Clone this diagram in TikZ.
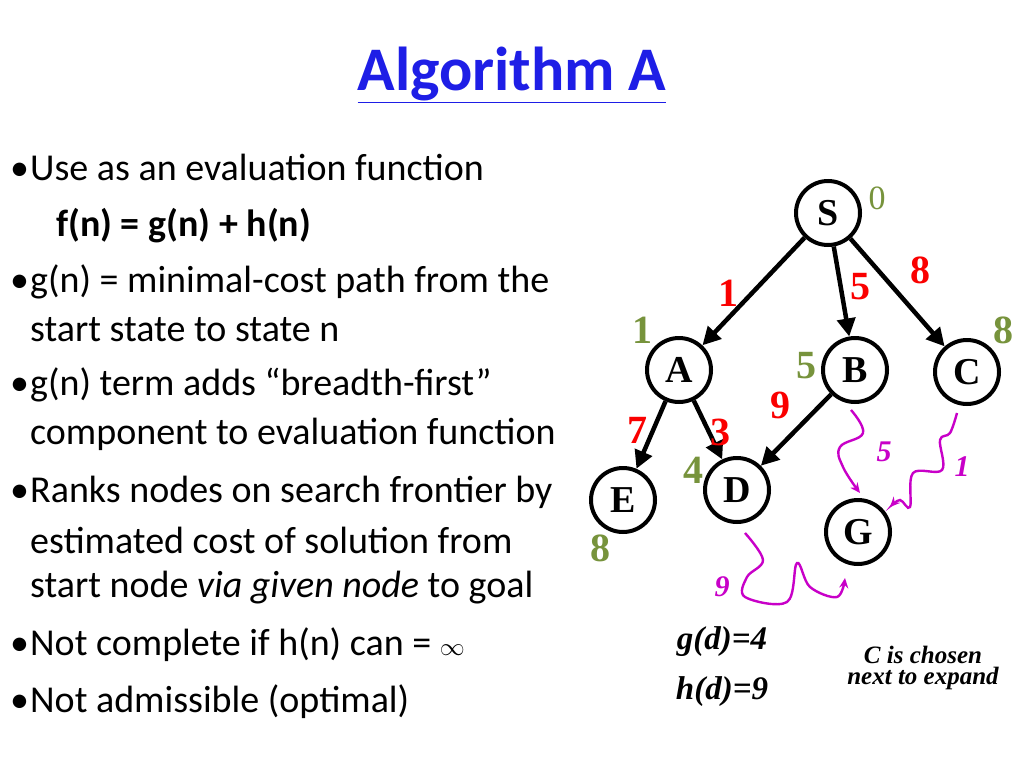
\documentclass[tikz,border=0pt]{standalone}
\usepackage{fontspec}
\setmainfont{Carlito}
\newfontfamily\tms{Liberation Serif}
\usetikzlibrary{arrows.meta}
\definecolor{ttlblue}{RGB}{30,30,230}
\definecolor{olivegreen}{RGB}{119,147,60}
\definecolor{redn}{RGB}{250,0,0}
\definecolor{mag}{RGB}{200,0,200}
\newcommand{\bul}{\makebox[20pt][l]{\textbullet}}
\begin{document}
\begin{tikzpicture}[x=1pt,y=-1pt,
  st/.style={circle,draw,line width=4pt,minimum size=64pt,inner sep=0pt,font=\tms\fontsize{38}{38}\selectfont\bfseries},
  edge/.style={line width=4.5pt,-{Triangle[length=18pt,width=18pt]}},
  wig/.style={mag,line width=2.4pt,-{Stealth[length=10pt,width=9pt]}},
  gn/.style={olivegreen,font=\tms\fontsize{40}{40}\selectfont\bfseries},
  rn/.style={redn,font=\tms\fontsize{40}{40}\selectfont\bfseries},
  mn/.style={mag,font=\tms\fontsize{30}{30}\selectfont\bfseries\itshape},
  bl/.style={anchor=west,inner sep=0pt,font=\fontsize{38}{38}\selectfont}]
\useasboundingbox[fill=white] (0,0) rectangle (1024,768);
\node[ttlblue,font=\fontsize{62}{62}\selectfont\bfseries] (title) at (512,75) {\underline{Algorithm A}};
% bullets
\node[bl] (b1) at (10,167) {\bul Use as an evaluation function};
\node[bl] (b1a) at (56,226) {\textbf{f(n) = g(n) + h(n)}};
\node[bl] (b2) at (10,282) {\bul g(n) = minimal-cost path from the};
\node[bl] (b2a) at (30,330) {start state to state n};
\node[bl] (b3) at (10,385) {\bul g(n) term adds \textquotedblleft breadth-first\textquotedblright};
\node[bl] (b3a) at (30,434) {component to evaluation function};
\node[bl] (b4) at (10,492) {\bul Ranks nodes on search frontier by};
\node[bl] (b4a) at (30,540) {estimated cost of solution from};
\node[bl] (b4b) at (30,588) {start node \textit{via given node} to goal};
\node[bl] (b5) at (10,645) {\bul Not complete if h(n) can = $\infty$};
\node[bl] (b6) at (10,702) {\bul Not admissible (optimal)};
% graph
\node[st] (S) at (828,213) {S};
\node[st] (A) at (679,370) {A};
\node[st] (B) at (855,370) {B};
\node[st] (C) at (967,372) {C};
\node[st] (E) at (623,500) {E};
\node[st] (D) at (737,490) {D};
\node[st] (G) at (858,532) {G};
\draw[edge] (S) -- (A);
\draw[edge] (S) -- (B);
\draw[edge] (S) -- (C);
\draw[edge] (A) -- (E);
\draw[edge] (A) -- (D);
\draw[edge] (B) -- (D);
\node[olivegreen,font=\tms\fontsize{34}{34}\selectfont] (n0) at (877,198) {0};
\node[rn] (r8) at (920,270) {8};
\node[rn] (r5) at (860,287) {5};
\node[rn] (r1) at (728,293) {1};
\node[gn] (g1) at (642,330) {1};
\node[gn] (g8) at (1003,330) {8};
\node[gn] (g5) at (806,366) {5};
\node[rn] (r9) at (780,405) {9};
\node[rn] (r7) at (637,430) {7};
\node[rn] (r3) at (720,432) {3};
\node[gn] (g4) at (693,470) {4};
\node[gn] (g8b) at (600,548) {8};
\node[mn] (m5) at (884,452) {5};
\node[mn] (m1) at (962,467) {1};
\node[mn] (m9) at (722,587) {9};
\draw[wig] plot[smooth,tension=0.7] coordinates {(851,410) (863,433) (840,447) (843,467) (860,493)};
\draw[wig] plot[smooth,tension=0.6] coordinates {(957,413) (950,433) (940,440) (942,470) (913,473) (910,507) (900,500) (890,507)};
\draw[wig] plot[smooth,tension=0.6] coordinates {(745,533) (763,560) (747,577) (745,597) (787,602) (797,563) (810,587) (837,597) (845,578)};
\node[font=\tms\fontsize{33}{33}\selectfont\bfseries\itshape] (gd) at (722,642) {g(d)=4};
\node[font=\tms\fontsize{33}{33}\selectfont\bfseries\itshape] (hd) at (722,692) {h(d)=9};
\node[font=\tms\fontsize{25}{25}\selectfont\bfseries\itshape,align=center] (cc) at (923,668) {C is chosen\\[-4pt]next to expand};
\end{tikzpicture}
\end{document}
